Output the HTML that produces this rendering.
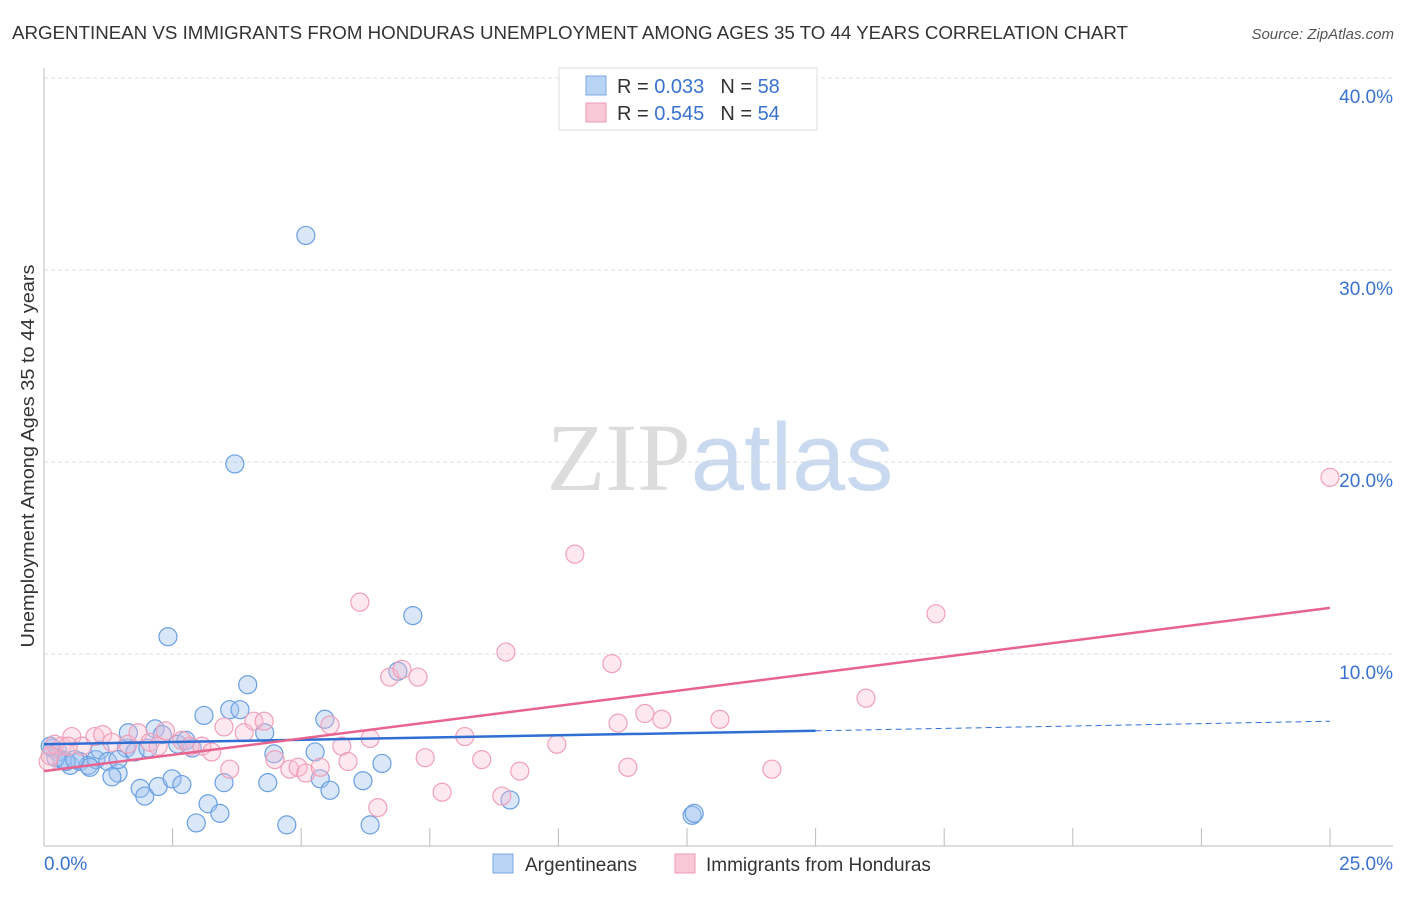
<!DOCTYPE html>
<html><head><meta charset="utf-8"><style>
body{margin:0;background:#fff;font-family:"Liberation Sans",sans-serif;}
svg text{font-family:"Liberation Sans",sans-serif;}
</style></head><body>
<svg id="chart" width="1406" height="892" viewBox="0 0 1406 892" xmlns="http://www.w3.org/2000/svg">
<text x="12" y="39" font-size="18" fill="#333" textLength="1116" lengthAdjust="spacingAndGlyphs">ARGENTINEAN VS IMMIGRANTS FROM HONDURAS UNEMPLOYMENT AMONG AGES 35 TO 44 YEARS CORRELATION CHART</text>
<text x="1394" y="39" font-size="15" fill="#555" text-anchor="end" font-style="italic">Source: ZipAtlas.com</text>
<text x="720" y="490" font-size="96" text-anchor="middle"><tspan fill="#dcdcdc" font-family="Liberation Serif">ZIP</tspan><tspan fill="#c9d9ef">atlas</tspan></text>
<g id="grid"></g>
<line x1="44" y1="68" x2="44" y2="846" stroke="#bbb"/>
<line x1="44" y1="846" x2="1393" y2="846" stroke="#bbb"/>
<text transform="translate(34,456) rotate(-90)" font-size="18" fill="#333" text-anchor="middle" textLength="383" lengthAdjust="spacingAndGlyphs">Unemployment Among Ages 35 to 44 years</text>
<g id="ticks"></g>
<g id="pts"></g>
<g id="lines"></g>
<g>
<rect x="559" y="68" width="258" height="62" fill="#fff" stroke="#ddd"/>
<rect x="586" y="76" width="20" height="19" fill="#b9d3f5" stroke="#7aa7e4"/>
<rect x="586" y="103" width="20" height="19" fill="#f8c8d6" stroke="#ee9ab4"/>
<text x="617" y="93" font-size="20" fill="#333">R = <tspan fill="#3a72d0">0.033</tspan><tspan dx="16">N = </tspan><tspan fill="#3a72d0">58</tspan></text>
<text x="617" y="120" font-size="20" fill="#333">R = <tspan fill="#3a72d0">0.545</tspan><tspan dx="16">N = </tspan><tspan fill="#3a72d0">54</tspan></text>
</g>
<g>
<rect x="493" y="854" width="20" height="19" fill="#b9d3f5" stroke="#7aa7e4"/>
<text x="525" y="871" font-size="19" fill="#333">Argentineans</text>
<rect x="675" y="854" width="20" height="19" fill="#f8c8d6" stroke="#ee9ab4"/>
<text x="706" y="871" font-size="19" fill="#333">Immigrants from Honduras</text>
</g>
</svg>
<script>
const yTicks=[10,20,30,40];
const yTickLabels=["10.0%","20.0%","30.0%","40.0%"];
const xTickLabels=["0.0%","25.0%"];
const blueX=[0.16,0.27,0.35,0.51,0.7,0.86,1.01,1.09,1.24,1.44,1.32,1.6,1.64,1.77,1.87,1.96,2.02,2.16,2.22,2.3,2.41,2.49,2.6,2.68,2.76,2.88,2.96,3.11,3.19,3.42,3.5,3.61,3.71,3.81,3.96,4.29,4.35,4.47,4.72,5.09,5.27,5.37,5.46,5.56,6.2,6.34,6.57,6.88,7.17,9.06,12.6,12.64,0.23,0.43,0.89,1.44,0.6,0.12];
const blueY=[5.1,4.9,4.5,4.2,4.4,4.2,4.5,5.0,4.4,3.8,3.6,5.1,5.9,4.9,3.0,2.6,5.1,6.1,3.1,5.8,10.9,3.5,5.3,3.2,5.5,5.1,1.2,6.8,2.2,1.7,3.3,7.1,19.9,7.1,8.4,5.9,3.3,4.8,1.1,31.8,4.9,3.5,6.6,2.9,3.4,1.1,4.3,9.1,12.0,2.4,1.6,1.7,4.6,4.4,4.1,4.5,4.5,5.2];
const pinkX=[0.08,0.21,0.35,0.54,0.74,0.99,1.14,1.32,1.63,1.83,2.06,2.22,2.36,2.68,2.84,3.07,3.26,3.5,3.61,3.89,4.08,4.28,4.49,4.78,4.94,5.09,5.37,5.56,5.79,5.91,6.14,6.34,6.49,6.72,6.96,7.27,7.41,7.74,8.18,8.51,8.9,8.98,9.25,9.97,10.32,11.04,11.16,11.35,11.68,12.01,13.14,14.15,15.98,17.34,25.0,0.12,0.47];
const pinkY=[4.4,5.3,5.2,5.7,5.2,5.7,5.8,5.4,5.3,5.9,5.4,5.2,6.0,5.5,5.2,5.2,4.9,6.2,4.0,5.9,6.5,6.5,4.5,4.0,4.1,3.8,4.1,6.3,5.2,4.4,12.7,5.6,2.0,8.8,9.2,8.8,4.6,2.8,5.7,4.5,2.6,10.1,3.9,5.3,15.2,9.5,6.4,4.1,6.9,6.6,6.6,4.0,7.7,12.1,19.2,4.7,5.2];
const blueLine=[[0,5.3],[15,6.0],[25,6.5]];
const pinkLine=[[0,3.9],[25,12.4]];
const NS="http://www.w3.org/2000/svg";
const X=v=>44+v/25*1286, Y=v=>846-v*19.2;
function mk(t,a,p){const e=document.createElementNS(NS,t);for(const k in a)e.setAttribute(k,a[k]);p.appendChild(e);return e;}
const grid=document.getElementById('grid'),ticks=document.getElementById('ticks');
yTicks.forEach((v,i)=>{
 const l=mk('line',{x1:44,x2:1393,y1:Y(v),y2:Y(v),stroke:'#ddd','stroke-dasharray':'4,3'},grid);
 
 
 const t=mk('text',{x:1393,y:Y(v)+25,'font-size':19,fill:'#3a72d0','text-anchor':'end'},ticks);
 t.textContent=yTickLabels[i];
 
 
});
for(let i=1;i<=10;i++){
 const l=mk('line',{x1:X(i*2.5),x2:X(i*2.5),y1:828,y2:846,stroke:'#bbb'},ticks);
 
 
}
[[0,'start',44],[1,'end',1393]].forEach(([i,a,x])=>{
 const t=mk('text',{x:x,y:870,'font-size':19,fill:'#3a72d0','text-anchor':a},ticks);
 t.textContent=xTickLabels[i];
 
 
});
const pts=document.getElementById('pts');
blueX.forEach((v,i)=>{
 const c=mk('circle',{cx:X(v),cy:Y(blueY[i]),r:9,fill:'rgba(160,195,240,0.4)',stroke:'#6a9fe2','stroke-width':1.2},pts);
 
 
});
pinkX.forEach((v,i)=>{
 const c=mk('circle',{cx:X(v),cy:Y(pinkY[i]),r:9,fill:'rgba(248,190,208,0.35)',stroke:'#f0a0b9','stroke-width':1.2},pts);
 
 
});
const lines=document.getElementById('lines');
const b1=mk('line',{x1:X(blueLine[0][0]),y1:Y(blueLine[0][1]),x2:X(blueLine[1][0]),y2:Y(blueLine[1][1]),stroke:'#2f6fd4','stroke-width':2.5},lines);


const b2=mk('line',{x1:X(blueLine[1][0]),y1:Y(blueLine[1][1]),x2:X(blueLine[2][0]),y2:Y(blueLine[2][1]),stroke:'#2f6fd4','stroke-width':1,'stroke-dasharray':'6,4'},lines);


const p1=mk('line',{x1:X(pinkLine[0][0]),y1:Y(pinkLine[0][1]),x2:X(pinkLine[1][0]),y2:Y(pinkLine[1][1]),stroke:'#e8648e','stroke-width':2.5},lines);


</script>
</body></html>
